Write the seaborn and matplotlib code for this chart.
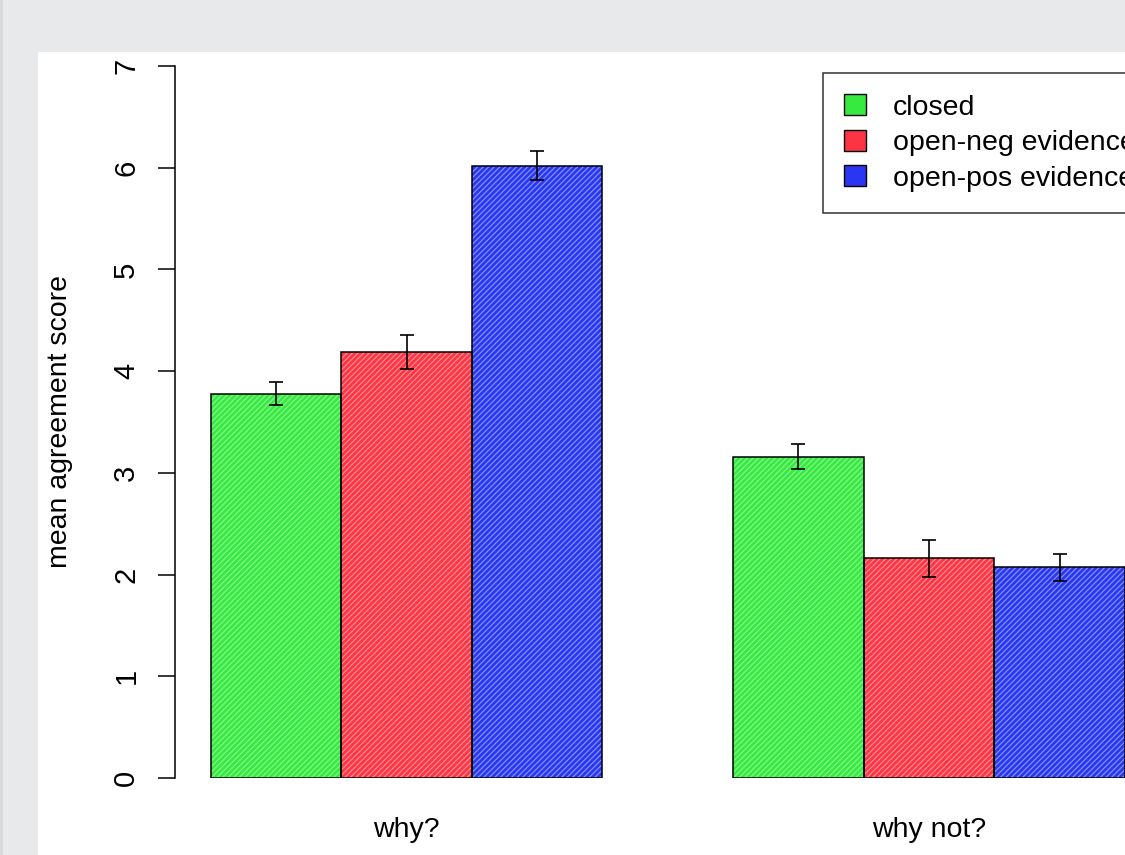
import matplotlib
matplotlib.use("Agg")
import matplotlib.pyplot as plt
import matplotlib.patches as mpatches
import seaborn as sns
import pandas as pd

questions = ["why?", "why not?"]
conditions = ["closed", "open-neg evidence", "open-pos evidence"]
means_why = [3.78, 4.19, 6.02]
means_whynot = [3.16, 2.16, 2.07]
err_why = [0.11, 0.17, 0.14]
err_whynot = [0.12, 0.18, 0.13]
yticks = [0, 1, 2, 3, 4, 5, 6, 7]

fill_cols = ["#36ea40", "#fc3444", "#2a36f0"]
hatch_cols = ["#84f48a", "#ff8a92", "#8090ff"]

rows = []
for q, ms, es in [(questions[0], means_why, err_why), (questions[1], means_whynot, err_whynot)]:
    for c, m, e in zip(conditions, ms, es):
        rows.append({"question": q, "condition": c, "mean": m, "err": e})
df = pd.DataFrame(rows)

sns.set_theme(style="white")
plt.rcParams["font.family"] = ["Liberation Sans", "DejaVu Sans"]
plt.rcParams["hatch.linewidth"] = 0.9
plt.rcParams["text.color"] = "black"
plt.rcParams["axes.labelcolor"] = "black"
plt.rcParams["xtick.color"] = "black"
plt.rcParams["ytick.color"] = "black"

W, H = 1125, 855
fig = plt.figure(figsize=(W / 100, H / 100), dpi=100)
fig.patch.set_facecolor("#e8e9ea")
fig.patches.append(mpatches.Rectangle((38 / W, 0), 1, 1 - 52 / H, transform=fig.transFigure,
                                      facecolor="white", edgecolor="none", zorder=-5))
fig.patches.append(mpatches.Rectangle((0, 0), 3 / W, 1, transform=fig.transFigure,
                                      facecolor="#d9dadb", edgecolor="none", zorder=-5))

left_px, right_px = 175, 1160
bot_px, top_px = 778, 66
ax = fig.add_axes([left_px / W, 1 - bot_px / H, (right_px - left_px) / W, (bot_px - top_px) / H])
ax.patch.set_visible(False)

sns.barplot(data=df, x="question", y="mean", hue="condition", order=questions,
            hue_order=conditions, palette=fill_cols, width=0.75, errorbar=None,
            ax=ax, legend=False, saturation=1)

ppu = (929 - 406.5)
x_left = 0 - (406.5 - left_px) / ppu
x_right = 1 + (right_px - 929) / ppu
ax.set_xlim(x_left, x_right)
ax.set_ylim(0, 7)

bars = [p for p in ax.patches if isinstance(p, mpatches.Rectangle)]
for p in bars:
    fc = p.get_facecolor()
    idx = 0
    for i, c in enumerate(fill_cols):
        if all(abs(a - b) < 0.02 for a, b in zip(matplotlib.colors.to_rgba(c), fc)):
            idx = i
    p.set_edgecolor(hatch_cols[idx])
    p.set_hatch("//////")
    p.set_linewidth(0)
    outline = mpatches.Rectangle((p.get_x(), p.get_y()), p.get_width(), p.get_height(),
                                 facecolor="none", edgecolor="black", linewidth=1.1, zorder=3)
    ax.add_patch(outline)

for i, c in enumerate(conditions):
    sub = df[df["condition"] == c]
    xs = [bars[i * 2 + j].get_x() + bars[i * 2 + j].get_width() / 2 for j in range(2)]
    ax.errorbar(xs, sub["mean"].values, yerr=sub["err"].values, fmt="none", ecolor="black",
                elinewidth=1.2, capsize=5, capthick=1.2, zorder=4)

for s in ["top", "right", "bottom"]:
    ax.spines[s].set_visible(False)
ax.spines["left"].set_color("black")
ax.spines["left"].set_linewidth(1.1)
ax.set_yticks(yticks)
ax.set_yticklabels([str(t) for t in yticks], rotation=90, va="center", fontsize=21)
ax.tick_params(axis="y", direction="out", length=12, width=1.1, color="black", pad=13, left=True)
ax.tick_params(axis="x", length=0, pad=28, labelsize=20.5)
ax.set_xlabel("")
ax.set_ylabel("mean agreement score", fontsize=20.5)
ax.yaxis.set_label_coords((73 - left_px) / (right_px - left_px), 0.5)

handles = [mpatches.Patch(facecolor=fill_cols[i], edgecolor="black", linewidth=1.0)
           for i in range(3)]
leg = fig.legend(handles, conditions, loc="upper left",
                 bbox_to_anchor=(823 / W, 1 - 73 / H), fontsize=20.5, frameon=True,
                 fancybox=False, edgecolor="black", handlelength=0.75, handleheight=0.75,
                 handletextpad=0.95, labelspacing=0.32, borderpad=0.75, borderaxespad=0)
leg.get_frame().set_linewidth(1.1)

fig.savefig("out.png", dpi=100, facecolor=fig.get_facecolor())
